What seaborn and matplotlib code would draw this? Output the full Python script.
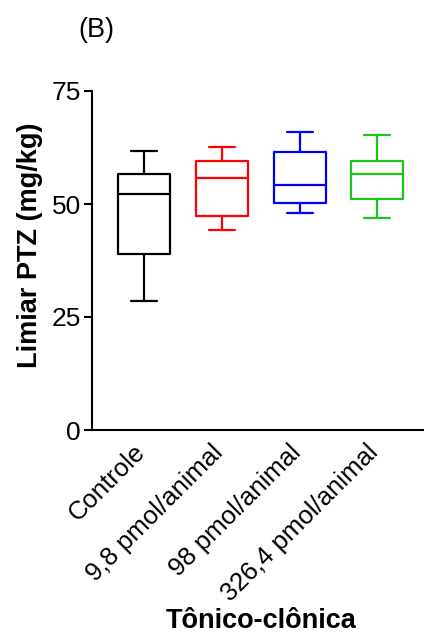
import numpy as np
import pandas as pd
import matplotlib
matplotlib.use("Agg")
import matplotlib.pyplot as plt
import matplotlib.transforms as mtransforms
import seaborn as sns

categories = ["Controle", "9,8 pmol/animal", "98 pmol/animal", "326,4 pmol/animal"]
# five-number summaries: min, Q1, median, Q3, max
controle = [28.5, 39.0, 52.3, 56.6, 61.7]
dose_9_8 = [44.3, 47.3, 55.7, 59.6, 62.5]
dose_98 = [48.0, 50.2, 54.3, 61.5, 65.9]
dose_326_4 = [47.0, 51.2, 56.7, 59.5, 65.2]
colors = ["#000000", "#FF0000", "#0000FF", "#1EC31E"]
yticks = [0, 25, 50, 75]

sns.set_style("ticks")
plt.rcParams["font.family"] = ["Liberation Sans", "DejaVu Sans"]
plt.rcParams["text.color"] = "black"
plt.rcParams["axes.labelcolor"] = "black"
plt.rcParams["xtick.color"] = "black"
plt.rcParams["ytick.color"] = "black"
plt.rcParams["axes.edgecolor"] = "black"

df = pd.DataFrame({
    "grupo": np.repeat(categories, 5),
    "limiar": controle + dose_9_8 + dose_98 + dose_326_4,
})

fig = plt.figure(figsize=(4.24, 6.37), dpi=100)
ax = fig.add_axes([92/424, 1 - 430/637, 1 - 92/424, (430 - 91)/637])

for i, (cat, col) in enumerate(zip(categories, colors)):
    sub = df[df["grupo"] == cat]
    sns.boxplot(data=sub, x="grupo", y="limiar", order=categories, whis=np.inf,
                width=0.67, fill=False, color=col, linewidth=1.6, ax=ax,
                medianprops=dict(color=col, linewidth=1.6),
                whiskerprops=dict(color=col, linewidth=1.6),
                capprops=dict(color=col, linewidth=1.6),
                boxprops=dict(color=col, linewidth=1.6))

FS = 19
ax.set_ylim(0, 75)
ax.set_xlim(-0.67, 3.6)
ax.set_yticks(yticks)
ax.set_yticklabels([str(t) for t in yticks], fontsize=FS)
ax.set_xticks(range(len(categories)))
ax.set_xticklabels(categories, fontsize=18.5, rotation=45, ha="right", rotation_mode="anchor")
ax.tick_params(axis="x", length=0, pad=10)
ax.tick_params(axis="y", length=6, width=1.5, pad=2)
offset = mtransforms.ScaledTranslation(-0.11, 0.04, fig.dpi_scale_trans)
for lab in ax.get_xticklabels():
    lab.set_transform(lab.get_transform() + offset)
for s in ["top", "right"]:
    ax.spines[s].set_visible(False)
for s in ["left", "bottom"]:
    ax.spines[s].set_linewidth(1.5)
ax.set_ylabel("Limiar PTZ (mg/kg)", fontsize=19.5, fontweight="bold")
ax.yaxis.set_label_coords(-(92 - 30) / 332, (430 - 245) / 339)
ax.yaxis.label.set_va("center")
ax.set_xlabel("Tônico-clônica", fontsize=19.5, fontweight="bold")
ax.xaxis.set_label_coords((261 - 92) / 332, -(621 - 430) / 339)
ax.xaxis.label.set_va("center")
fig.text(78/424, 1 - 30/637, "(B)", fontsize=19.5, va="center", ha="left")

fig.savefig("out.png", dpi=100)
